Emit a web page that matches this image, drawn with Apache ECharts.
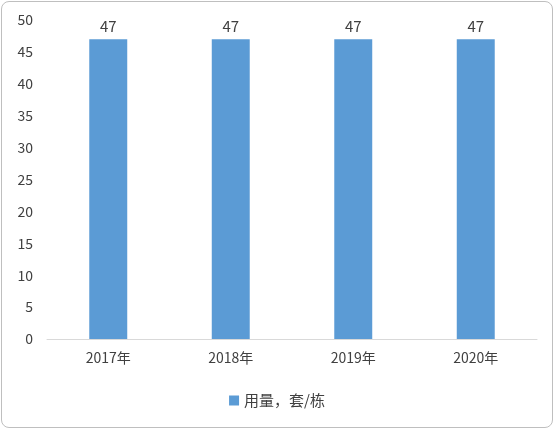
<!DOCTYPE html>
<html>
<head>
<meta charset="UTF-8" />
<script src="https://cdn.jsdelivr.net/npm/echarts@6/dist/echarts.min.js"></script>
<style>
    html, body { margin: 0; padding: 0; background: #fff; }
    #main {
        position: absolute; left: 1px; top: 1px;
        width: 552px; height: 427px;
        border: 1px solid #bfbfbf; border-radius: 8px;
        box-sizing: border-box;
    }
</style>
</head>
<body>
<div id="main"></div>
<script>
    // data
    const years = ['2017年', '2018年', '2019年', '2020年']
    const usage = [47, 47, 47, 47]
    const seriesName = '用量，套/栋'

    const chart = echarts.init(document.getElementById('main'))
    chart.setOption({
        textStyle: { fontFamily: 'Noto Sans CJK SC', color: '#404040' },
        animation: false,
        grid: { left: 45, right: 15, top: 18, bottom: 88 },
        legend: {
            bottom: 14, itemWidth: 10, itemHeight: 10, icon: 'rect',
            textStyle: { fontSize: 15, color: '#404040' },
            data: [seriesName]
        },
        xAxis: {
            type: 'category', data: years,
            axisLine: { lineStyle: { color: '#d9d9d9' } },
            axisTick: { show: false },
            axisLabel: { fontSize: 14, color: '#404040', margin: 12 }
        },
        yAxis: {
            type: 'value', min: 0, max: 50, interval: 5,
            splitLine: { show: false },
            axisLine: { show: false },
            axisLabel: { fontSize: 14, color: '#404040', margin: 14 }
        },
        series: [{
            name: seriesName, type: 'bar', data: usage,
            barWidth: '31%',
            itemStyle: { color: '#5b9bd5' },
            label: { show: true, position: 'top', fontSize: 15, color: '#404040' }
        }]
    })
</script>
</body>
</html>
